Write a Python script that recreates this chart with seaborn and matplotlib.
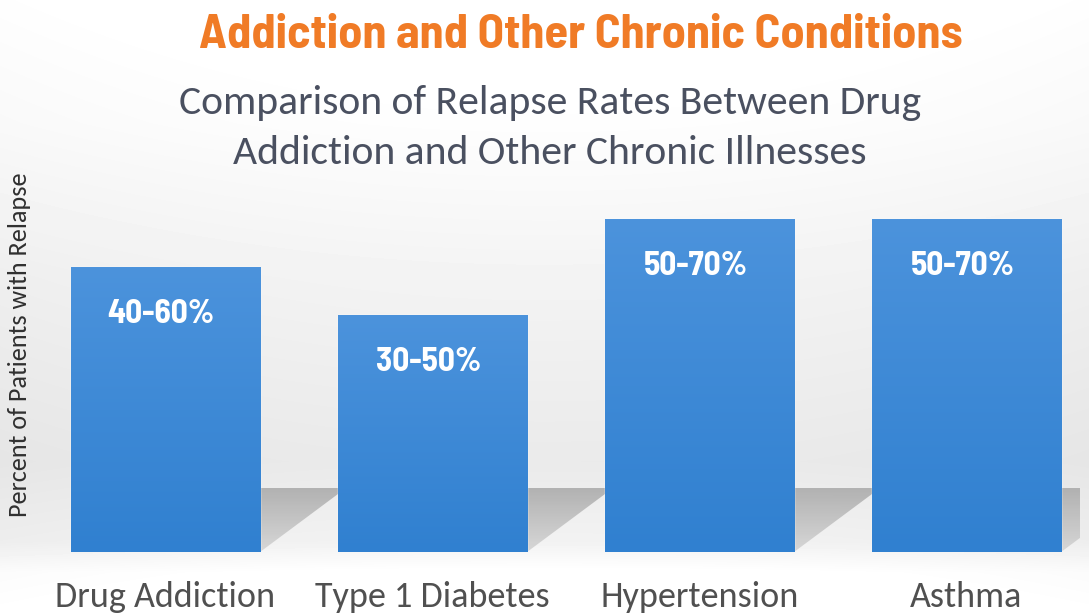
import numpy as np
import matplotlib
matplotlib.use("Agg")
import matplotlib.pyplot as plt
import seaborn as sns
import pandas as pd
from matplotlib.patches import Polygon
from matplotlib.colors import LinearSegmentedColormap

# ---- data ----
categories = ["Drug Addiction", "Type 1 Diabetes", "Hypertension", "Asthma"]
bar_heights = [57, 47.4, 66.6, 66.6]          # visual bar heights
range_labels = ["40-60%", "30-50%", "50-70%", "50-70%"]
title = "Addiction and Other Chronic Conditions"
subtitle_1 = "Comparison of Relapse Rates Between Drug"
subtitle_2 = "Addiction and Other Chronic Illnesses"
ylabel = "Percent of Patients with Relapse"

sns.set_theme(style="white")
BODY = ['Carlito', 'Lato', 'DejaVu Sans']
COND = ['Barlow Semi Condensed', 'Barlow Condensed', 'DejaVu Sans']
plt.rcParams['font.family'] = BODY

W, H = 1089, 616
fig = plt.figure(figsize=(W / 100, H / 100), dpi=100)

# background gradient
bg = fig.add_axes([0, 0, 1, 1], zorder=0)
rows = np.linspace(0, 1, H)
stops_y = [0.0, 0.2, 0.45, 0.75, 0.88, 0.93, 1.0]
stops_v = [0.995, 0.975, 0.935, 0.90, 0.93, 0.985, 1.0]
v = np.interp(rows, stops_y, stops_v)
cols = np.linspace(-1, 1, W)
hmod = 1 + 0.02 * (1 - cols ** 2)
img = np.clip(v[:, None] * hmod[None, :], 0, 1)
bg.imshow(img, cmap="gray", vmin=0, vmax=1, aspect="auto", extent=[0, W, H, 0])
bg.set_xlim(0, W)
bg.set_ylim(H, 0)
bg.axis("off")

# bar axes
ax = fig.add_axes([20 / W, 64 / H, 1060 / W, 352 / H], zorder=2)
ax.patch.set_alpha(0)
df = pd.DataFrame({"condition": categories, "height": bar_heights})
sns.barplot(data=df, x="condition", y="height", color="#3a86d4",
            width=0.708, saturation=1, ax=ax, zorder=3)
bars = list(ax.patches)

# soft shadows behind bars
shade = np.linspace(0, 1, 64)[:, None]
shadow_cmap = LinearSegmentedColormap.from_list("s", ["#d2d2d2", "#a8a8a8"])
for p in bars:
    x0 = p.get_x() + p.get_width()
    x1 = x0 + (1 - p.get_width())
    poly = Polygon([(x0, 12.8), (x1, 12.8), (x1, 11.6), (x0, 0)],
                   closed=True, facecolor="none", edgecolor="none", zorder=1)
    ax.add_patch(poly)
    im = ax.imshow(shade, cmap=shadow_cmap, aspect="auto", origin="lower",
                   extent=[x0, x1, 0, 12.8], zorder=1, alpha=0.85)
    im.set_clip_path(poly)

# gradient on bars
grad = np.linspace(0, 1, 256)[:, None]
bar_cmap = LinearSegmentedColormap.from_list("b", ["#3080d0", "#4c93dc"])
for p in bars:
    x, w, h = p.get_x(), p.get_width(), p.get_height()
    im = ax.imshow(grad, cmap=bar_cmap, aspect="auto", origin="lower",
                   extent=[x, x + w, 0, h], zorder=4)
    im.set_clip_path(p)
ax.set_xlim(-0.545, 3.425)
ax.set_ylim(0, 70.4)

# labels in bars
for p, lab in zip(bars, range_labels):
    ax.annotate(lab, (p.get_x() + p.get_width() / 2, p.get_height()),
                xytext=(-3, -34), textcoords="offset points",
                ha="center", va="center", color="white", fontsize=24,
                fontweight="bold", family=COND, zorder=6)

ax.set_xlabel("")
ax.set_ylabel("")
ax.set_yticks([])
ax.tick_params(axis="x", length=0, pad=21, labelsize=26, labelcolor="#505050")
sns.despine(ax=ax, left=True, bottom=True)

# texts
fig.text(581 / W, 1 - 35 / H, title, ha="center", va="center",
         fontsize=34.8, fontweight="bold", color="#f07b26", family=COND)
fig.text(550 / W, 1 - 103 / H, subtitle_1, ha="center", va="center",
         fontsize=30, color="#4a5060")
fig.text(550 / W, 1 - 153 / H, subtitle_2, ha="center", va="center",
         fontsize=30, color="#4a5060")
fig.text(20 / W, 1 - 345 / H, ylabel, ha="center", va="center",
         rotation=90, fontsize=18.8, color="#303030")

fig.savefig("out.png", dpi=100)
